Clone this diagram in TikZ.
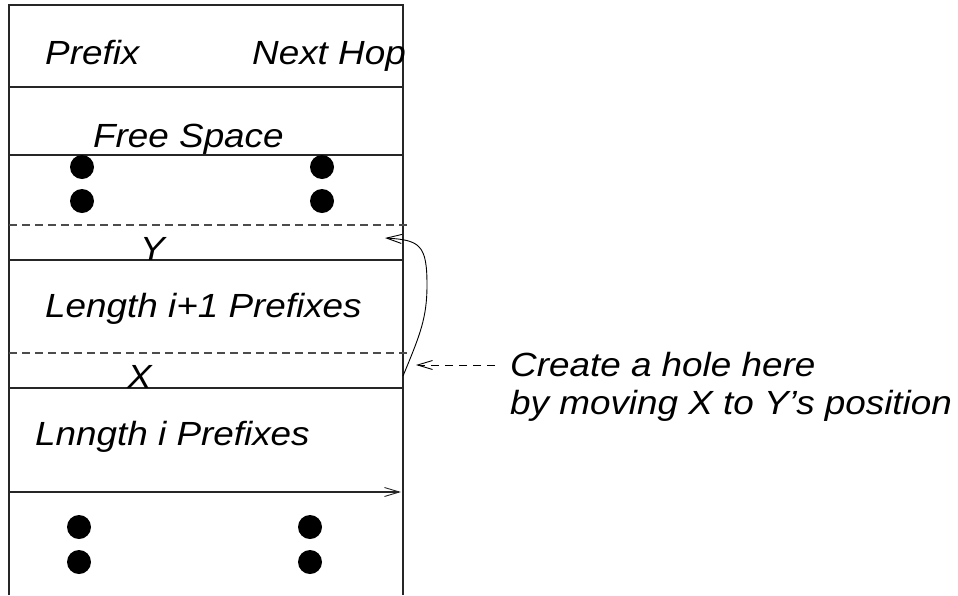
\documentclass[tikz,border=0pt]{standalone}
\usepackage{fontspec}
\setmainfont{Liberation Sans}
\newfontfamily\widefont[FakeStretch=1.1]{Liberation Sans}
\usetikzlibrary{arrows.meta}
\begin{document}
\begin{tikzpicture}[x=1pt,y=-1pt,
  lbl/.style={anchor=base west,inner sep=0pt,font=\widefont\fontsize{33.5}{40}\selectfont\itshape},
  rule/.style={line width=1.1pt,draw=black!85},
  dline/.style={line width=1.1pt,draw=black!70,dash pattern=on 8pt off 5pt},
  dot/.style={circle,fill=black,inner sep=0pt,minimum size=24pt},
  tip/.style={-{Straight Barb[length=15pt,width=9pt,line width=0.9pt]}}]
\useasboundingbox (0,0) rectangle (958,595);
% box outline
\coordinate (tl) at (9,5);
\coordinate (tr) at (403,5);
\coordinate (bl) at (9,595);
\coordinate (br) at (403,595);
\draw[rule] (bl) -- (tl) -- (tr) -- (br);
% row separators
\coordinate (a1) at (9,87);   \coordinate (b1) at (403,87);
\coordinate (a2) at (9,155);  \coordinate (b2) at (403,155);
\coordinate (a3) at (9,225);  \coordinate (b3) at (408,225);
\coordinate (a4) at (9,260);  \coordinate (b4) at (403,260);
\coordinate (a5) at (9,353);  \coordinate (b5) at (408,353);
\coordinate (a6) at (9,388);  \coordinate (b6) at (403,388);
\coordinate (a7) at (9,492);  \coordinate (b7) at (401,492);
\draw[rule] (a1) -- (b1);
\draw[rule] (a2) -- (b2);
\draw[dline] (a3) -- (b3);
\draw[rule] (a4) -- (b4);
\draw[dline] (a5) -- (b5);
\draw[rule] (a6) -- (b6);
\draw[rule,tip] (a7) -- (b7);
% labels
\node[lbl] (prefix) at (45,64) {Prefix};
\node[lbl] (nexthop) at (252,64) {Next Hop};
\node[lbl] (free) at (93,147) {Free Space};
\node[lbl] (y) at (140,260) {Y};
\node[lbl] (len1) at (45,317) {Length i+1 Prefixes};
\node[lbl] (x) at (127,388) {X};
\node[lbl] (len0) at (35,445) {Lnngth i Prefixes};
\node[lbl] (note1) at (510,376) {Create a hole here};
\node[lbl] (note2) at (510,414) {by moving X to Y’s position};
% dots
\node[dot] (d1) at (82,167) {};
\node[dot] (d2) at (82,201) {};
\node[dot] (d3) at (322,167) {};
\node[dot] (d4) at (322,201) {};
\node[dot] (d5) at (79,527) {};
\node[dot] (d6) at (79,562) {};
\node[dot] (d7) at (310,527) {};
\node[dot] (d8) at (310,562) {};
% move arrow
\coordinate (xs) at (403,376);
\coordinate (yt) at (385,238);
\draw[line width=0.9pt,tip] (xs) .. controls (420,335) and (427,318) .. (427,285)
  .. controls (427,245) and (420,240) .. (yt);
% hole pointer
\coordinate (hs) at (495,365);
\coordinate (he) at (416,365);
\draw[line width=0.9pt,dash pattern=on 8pt off 6pt,tip] (hs) -- (he);
\end{tikzpicture}
\end{document}
